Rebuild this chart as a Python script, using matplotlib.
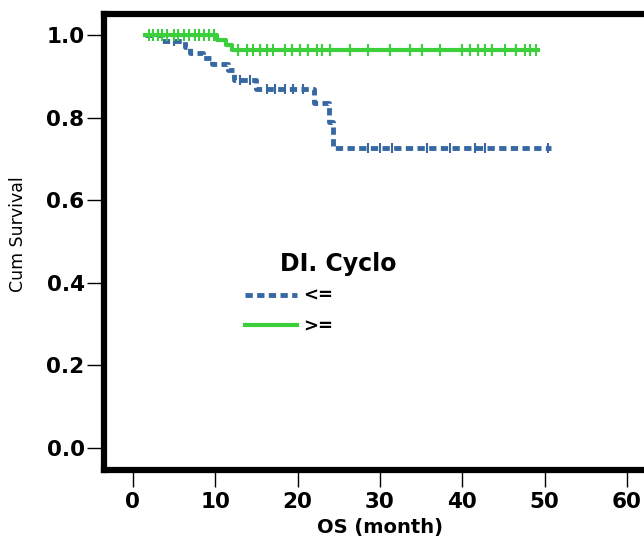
import numpy as np
import matplotlib
matplotlib.use("Agg")
import matplotlib.pyplot as plt
from matplotlib.lines import Line2D

# Kaplan-Meier steps (time in months, cumulative survival)
low_times = [1.5, 3.5, 6.3, 7.0, 8.5, 9.6, 11.6, 12.3, 15.0, 22.0, 23.8, 24.3, 50.8]
low_surv = [1.0, 0.985, 0.972, 0.957, 0.945, 0.930, 0.915, 0.890, 0.870, 0.835, 0.790, 0.727, 0.727]
low_censor = [2.5, 5.0, 13.0, 14.2, 16.3, 17.3, 18.5, 19.5, 20.7, 28.6, 30.0,
              31.5, 35.7, 38.5, 41.6, 42.8, 50.4]

high_times = [1.5, 10.2, 11.3, 12.0, 49.2]
high_surv = [1.0, 0.988, 0.976, 0.963, 0.963]
high_censor = [2.0, 2.5, 3.0, 3.6, 4.2, 5.0, 5.5, 6.2, 6.8, 7.5, 8.0, 8.7, 9.3, 9.8,
               12.8, 13.9, 14.6, 15.4, 16.3, 17.0, 18.5, 19.3, 20.3, 21.3, 22.4,
               23.0, 24.0, 26.4, 28.6, 31.2, 33.7, 35.1, 37.3, 40.0, 41.0, 41.9,
               42.8, 43.6, 45.2, 46.5, 47.6, 48.2, 49.0]

group_title = "DI. Cyclo"
group_labels = ["<=", ">="]
blue = "#3868a2"
green = "#3ccf3c"


def surv_at(times, surv, t):
    idx = np.searchsorted(times, t, side="right") - 1
    return np.asarray(surv)[idx]


fig = plt.figure(figsize=(6.44, 5.37), dpi=100)
ax = fig.add_axes([104 / 644, 1 - 470 / 537, 560 / 644, 456 / 537])

ax.step(low_times, low_surv, where="post", color=blue, lw=3.5,
        dashes=(1.5, 0.9), solid_capstyle="butt", dash_capstyle="butt")
ax.plot(low_censor, surv_at(low_times, low_surv, low_censor), ls="none",
        marker="|", ms=7, mew=1.5, color=blue)

ax.step(high_times, high_surv, where="post", color=green, lw=3)
ax.plot(high_censor, surv_at(high_times, high_surv, high_censor), ls="none",
        marker="|", ms=8, mew=1.5, color=green)

ax.set_xlim(-3.5, 64.5)
ax.set_ylim(-0.053, 1.051)
ax.set_xticks(np.arange(0, 70, 10))
ax.set_yticks(np.arange(0, 1.01, 0.2))
ax.set_yticklabels(["%.1f" % v for v in np.arange(0, 1.01, 0.2)])

for sp in ax.spines.values():
    sp.set_linewidth(4.5)
ax.tick_params(direction="out", length=12, width=1, labelsize=15.5)
ax.tick_params(axis="y", pad=2)
ax.tick_params(axis="x", pad=4)
for lab in ax.get_xticklabels() + ax.get_yticklabels():
    lab.set_fontweight("bold")

fig.text(18 / 644, 1 - 234 / 537, "Cum Survival", rotation=90,
         ha="center", va="center", fontsize=12.5)
fig.text(380 / 644, 1 - 527 / 537, "OS (month)", ha="center", va="center",
         fontsize=14, fontweight="bold")

# legend
fig.text(280 / 644, 1 - 264 / 537, group_title, ha="left", va="center",
         fontsize=17, fontweight="bold")
handles = [Line2D([], [], color=blue, lw=3.5, dashes=(1.5, 0.9)),
           Line2D([], [], color=green, lw=3)]
leg = fig.legend(handles, group_labels, loc="upper left",
                 bbox_to_anchor=(245 / 644, 1 - 287 / 537), frameon=False,
                 borderpad=0, borderaxespad=0, handlelength=2.9,
                 handletextpad=0.3, labelspacing=0.7,
                 prop={"size": 13, "weight": "bold"})

fig.savefig("out.png", dpi=100)
